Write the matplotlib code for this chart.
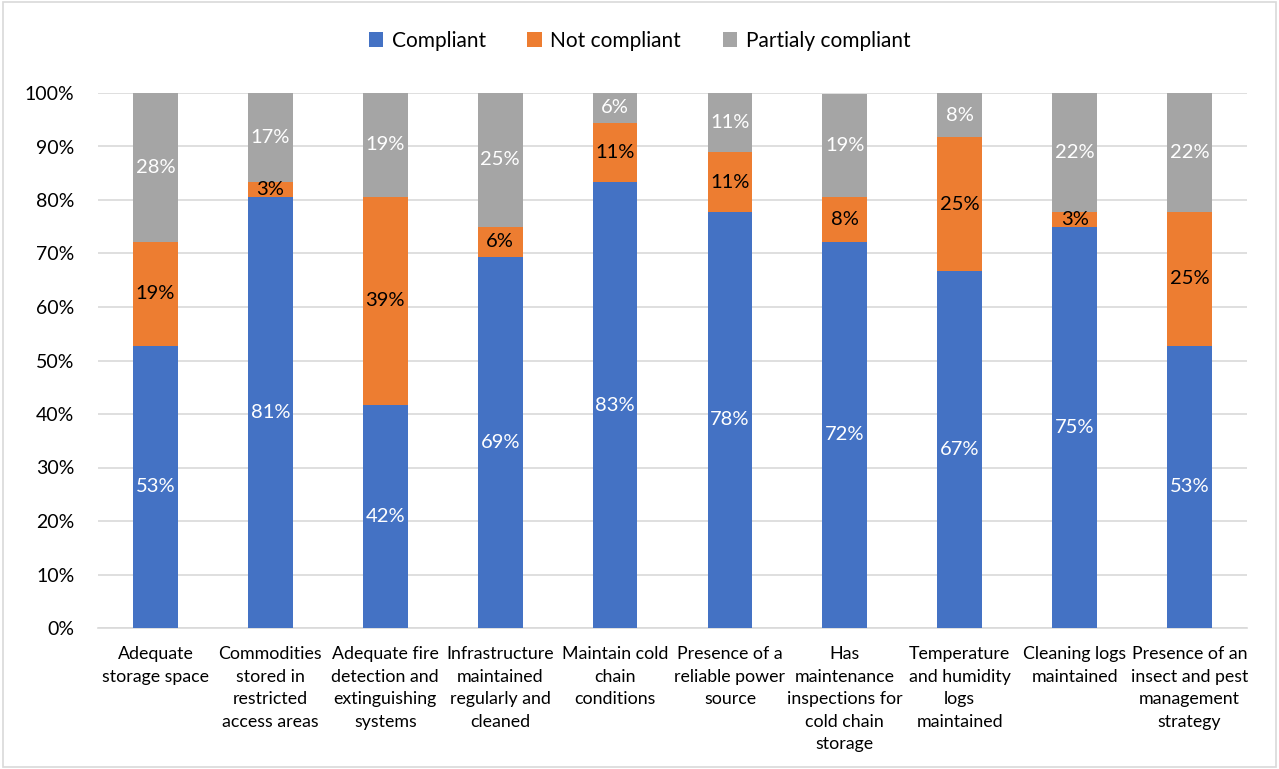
import matplotlib.pyplot as plt
import numpy as np
from matplotlib.patches import Rectangle

plt.rcParams['font.family'] = ['Lato', 'DejaVu Sans']

categories = [
    "Adequate\nstorage space",
    "Commodities\nstored in\nrestricted\naccess areas",
    "Adequate fire\ndetection and\nextinguishing\nsystems",
    "Infrastructure\nmaintained\nregularly and\ncleaned",
    "Maintain cold\nchain\nconditions",
    "Presence of a\nreliable power\nsource",
    "Has\nmaintenance\ninspections for\ncold chain\nstorage",
    "Temperature\nand humidity\nlogs\nmaintained",
    "Cleaning logs\nmaintained",
    "Presence of an\ninsect and pest\nmanagement\nstrategy",
]
compliant = [52.8, 80.6, 41.7, 69.4, 83.3, 77.8, 72.2, 66.7, 75.0, 52.8]
not_compliant = [19.4, 2.8, 38.9, 5.6, 11.1, 11.1, 8.3, 25.0, 2.8, 25.0]
partial = [27.8, 16.7, 19.4, 25.0, 5.6, 11.1, 19.4, 8.3, 22.2, 22.2]
series_names = ["Compliant", "Not compliant", "Partialy compliant"]
colors = ["#4472C4", "#ED7D31", "#A5A5A5"]
label_colors = ["white", "black", "white"]

fig = plt.figure(figsize=(12.79, 7.69), dpi=100)
ax = fig.add_axes([98 / 1279, 1 - 628 / 769, 1149 / 1279, 535 / 769])

# chart border
fig.patches.append(Rectangle((0.002, 0.002), 0.996, 0.996, transform=fig.transFigure,
                             fill=False, edgecolor="#d9d9d9", lw=1.2))

x = np.arange(len(categories))
bottom = np.zeros(len(categories))
handles = []
for vals, name, col, lcol in zip([compliant, not_compliant, partial], series_names, colors, label_colors):
    vals = np.array(vals)
    bars = ax.bar(x, vals, bottom=bottom, width=0.39, color=col, label=name, zorder=3)
    handles.append(bars)
    for xi, v, b in zip(x, vals, bottom):
        ax.text(xi, b + v / 2, f"{v:.0f}%", ha="center", va="center",
                color=lcol, fontsize=14.5, zorder=4)
    bottom += vals

ax.set_xlim(-0.5, len(categories) - 0.5)
ax.set_ylim(0, 100)
ax.set_yticks(np.arange(0, 101, 10))
ax.set_yticklabels([f"{t}%" for t in range(0, 101, 10)], fontsize=14)
ax.yaxis.grid(True, color="#d9d9d9", lw=1.2, zorder=0)
ax.set_xticks(x)
ax.set_xticklabels(categories, fontsize=12.8, linespacing=1.5, va="top")
ax.tick_params(axis="both", length=0)
ax.tick_params(axis="x", pad=13)
ax.tick_params(axis="y", pad=17)
for s in ["top", "right", "left"]:
    ax.spines[s].set_visible(False)
ax.spines["bottom"].set_color("#d9d9d9")
ax.spines["bottom"].set_linewidth(1.2)

fig.legend(handles=handles, labels=series_names, loc="center", bbox_to_anchor=(0.5, 1 - 41 / 769),
           ncol=3, frameon=False, fontsize=15, handlelength=0.7, handleheight=0.7,
           handletextpad=0.4, columnspacing=2.0)

fig.savefig("out.png", dpi=100)
